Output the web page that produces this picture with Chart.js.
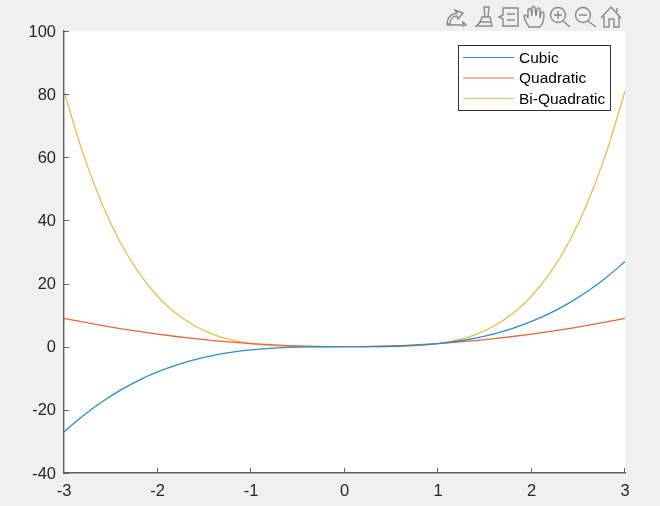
<!DOCTYPE html>
<html lang="en">
<head>
  <meta charset="UTF-8">
  <title>Cubic, Quadratic, Bi-Quadratic</title>
  <script src="https://cdn.jsdelivr.net/npm/chart.js"></script>
  <style>
    html, body {
      margin: 0;
      padding: 0;
      background: #f0f0f0;
      overflow: hidden;
    }
    .wrap {
      position: relative;
      width: 660px;
      height: 506px;
    }
    #toolbar {
      position: absolute;
      left: 0;
      top: 0;
    }
  </style>
</head>
<body>
  <div class="wrap">
    <canvas id="chart" width="660" height="506"></canvas>
    <svg id="toolbar" width="660" height="31" fill="none" stroke="#8a8a8a" stroke-width="1.4">
      <!-- edit plot arrow -->
      <path d="M447 24c0-6 4-10 10-11l-2-3 8 3-5 6-1-3c-4 0-7 3-7 8z M447 25h15M463 22l3 3-3 1z"/>
      <!-- brush -->
      <path d="M484 7h5l-1 10h-3z M482 17h8l2 9h-16c3-2 5-5 6-9z M479 22h12"/>
      <!-- legend -->
      <path d="M503 8h15v18h-15v-7l-4-2 4-2z M507 14h8M507 20h8"/>
      <!-- hand -->
      <path d="M529 27c-2-4-5-7-5-11 1-2 3 0 4 2l0-8c0-2 2-2 3 0l1 6 0-8c0-2 3-2 3 0l1 8 1-7c1-2 3-1 3 1l0 8 1-5c1-2 3-1 3 1 0 6-1 10-4 13z"/>
      <!-- zoom in -->
      <circle cx="558" cy="15" r="7.5"/><path d="M563 21l7 6M554 15h8M558 11v8"/>
      <!-- zoom out -->
      <circle cx="583" cy="15" r="7.5"/><path d="M588 21l8 6M579 15h8"/>
      <!-- home -->
      <path d="M601 18l10-11 10 11M604 16v11h5v-8h5v8h5v-11M617 8v4"/>
    </svg>
  </div>

  <script>
    const xValues = [-3, -2.8, -2.6, -2.4, -2.2, -2, -1.8, -1.6, -1.4, -1.2, -1, -0.8, -0.6, -0.4, -0.2, 0,
      0.2, 0.4, 0.6, 0.8, 1, 1.2, 1.4, 1.6, 1.8, 2, 2.2, 2.4, 2.6, 2.8, 3];
    const cubicValues = [-27, -21.95, -17.58, -13.82, -10.65, -8, -5.83, -4.1, -2.74, -1.73, -1, -0.51, -0.22, -0.06, -0.01, 0,
      0.01, 0.06, 0.22, 0.51, 1, 1.73, 2.74, 4.1, 5.83, 8, 10.65, 13.82, 17.58, 21.95, 27];
    const quadraticValues = [9, 7.84, 6.76, 5.76, 4.84, 4, 3.24, 2.56, 1.96, 1.44, 1, 0.64, 0.36, 0.16, 0.04, 0,
      0.04, 0.16, 0.36, 0.64, 1, 1.44, 1.96, 2.56, 3.24, 4, 4.84, 5.76, 6.76, 7.84, 9];
    const biQuadraticValues = [81, 61.47, 45.7, 33.18, 23.43, 16, 10.5, 6.55, 3.84, 2.07, 1, 0.41, 0.13, 0.03, 0, 0,
      0, 0.03, 0.13, 0.41, 1, 2.07, 3.84, 6.55, 10.5, 16, 23.43, 33.18, 45.7, 61.47, 81];
    const seriesNames = ['Cubic', 'Quadratic', 'Bi-Quadratic'];
    const seriesColors = ['#2a8ccd', '#e4693a', '#f0bb45'];

    function toPoints(values) {
      return values.map((v, i) => ({ x: xValues[i], y: v }));
    }

    // white plot background, matlab style inward ticks and the boxed legend
    const matlabLook = {
      id: 'matlabLook',
      beforeDraw(chart) {
        const { ctx, chartArea: a } = chart;
        ctx.save();
        ctx.fillStyle = '#ffffff';
        ctx.fillRect(a.left, a.top, a.right - a.left, a.bottom - a.top);
        ctx.restore();
      },
      afterDraw(chart) {
        const { ctx, chartArea: a, scales } = chart;
        ctx.save();
        ctx.strokeStyle = '#606060';
        ctx.lineWidth = 1;
        ctx.beginPath();
        scales.x.ticks.forEach(t => {
          const px = Math.round(scales.x.getPixelForValue(t.value)) - 0.5;
          ctx.moveTo(px, a.bottom);
          ctx.lineTo(px, a.bottom - 5);
        });
        scales.y.ticks.forEach(t => {
          const py = Math.round(scales.y.getPixelForValue(t.value)) + 0.5;
          ctx.moveTo(a.left, py);
          ctx.lineTo(a.left + 5, py);
        });
        ctx.stroke();

        // legend
        ctx.fillStyle = '#ffffff';
        ctx.fillRect(458.5, 45.5, 152, 65);
        ctx.strokeStyle = '#303030';
        ctx.strokeRect(458.5, 45.5, 152, 65);
        ctx.font = '15.5px "Liberation Sans"';
        ctx.textBaseline = 'middle';
        seriesNames.forEach((name, i) => {
          const y = 57.5 + i * 20.5;
          ctx.strokeStyle = seriesColors[i];
          ctx.lineWidth = 1.2;
          ctx.beginPath();
          ctx.moveTo(463, y);
          ctx.lineTo(514, y);
          ctx.stroke();
          ctx.fillStyle = '#000000';
          ctx.fillText(name, 519, y + 1);
        });
        ctx.restore();
      }
    };

    const axisTicks = {
      color: '#262626',
      font: { family: '"Liberation Sans"', size: 16.5 },
      maxRotation: 0,
      autoSkip: false
    };

    new Chart(document.getElementById('chart').getContext('2d'), {
      type: 'line',
      data: {
        datasets: [cubicValues, quadraticValues, biQuadraticValues].map((values, i) => ({
          label: seriesNames[i],
          data: toPoints(values),
          borderColor: seriesColors[i],
          borderWidth: 1.3,
          pointRadius: 0,
          cubicInterpolationMode: 'monotone'
        }))
      },
      options: {
        responsive: false,
        animation: false,
        layout: { padding: { left: 0, top: 31, right: 35, bottom: 0 } },
        plugins: { legend: { display: false }, tooltip: { enabled: false } },
        scales: {
          x: {
            type: 'linear',
            min: -3,
            max: 3,
            afterFit(scale) { scale.height = 33; },
            ticks: { ...axisTicks, stepSize: 1, padding: 9 },
            grid: { display: false, drawTicks: false },
            border: { color: '#606060', width: 1.4 }
          },
          y: {
            min: -40,
            max: 100,
            afterFit(scale) { scale.width = 64; },
            ticks: { ...axisTicks, stepSize: 20, padding: 8, labelOffset: 1 },
            grid: { display: false, drawTicks: false },
            border: { color: '#606060', width: 1.4 }
          }
        }
      },
      plugins: [matlabLook]
    });
  </script>
</body>
</html>
